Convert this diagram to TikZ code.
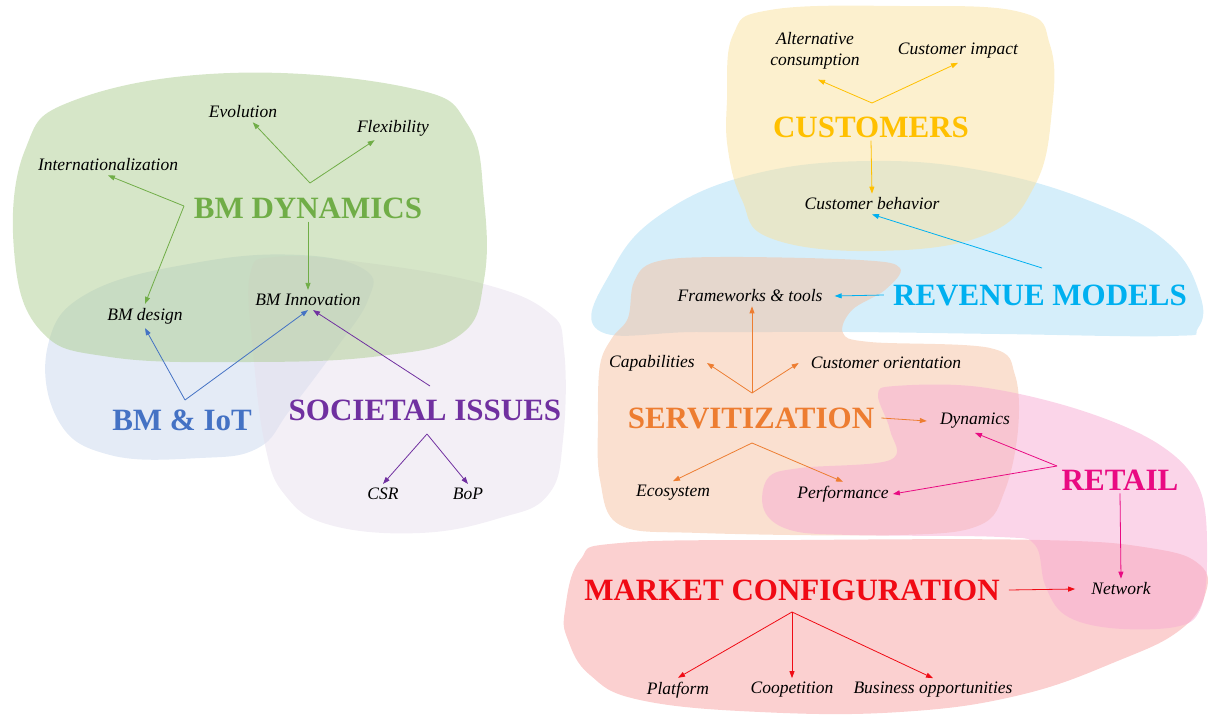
\documentclass[tikz,border=0pt]{standalone}
\usepackage{fontspec}
\setmainfont{Liberation Serif}
\usepackage{tikz}
\usetikzlibrary{arrows.meta}
\definecolor{dyngreen}{RGB}{112,173,71}
\definecolor{iotblue}{RGB}{68,114,196}
\definecolor{socpurple}{RGB}{112,48,160}
\definecolor{custyellow}{RGB}{255,192,0}
\definecolor{revblue}{RGB}{0,176,240}
\definecolor{servorange}{RGB}{237,125,49}
\definecolor{retailpink}{RGB}{233,10,130}
\definecolor{marketred}{RGB}{240,10,20}
\definecolor{greenblob}{RGB}{173,205,145}
\definecolor{iotblob}{RGB}{201,215,237}
\definecolor{socblob}{RGB}{231,223,237}
\definecolor{custblob}{RGB}{249,225,157}
\definecolor{revblob}{RGB}{171,221,245}
\definecolor{servblob}{RGB}{245,193,161}
\definecolor{retailblob}{RGB}{247,171,211}
\definecolor{marketblob}{RGB}{247,161,161}
\tikzset{
  blob/.style={fill=#1, fill opacity=0.5},
  topic/.style={font=\fontsize{31}{33}\selectfont\bfseries, inner sep=3pt},
  item/.style={font=\fontsize{17.5}{21}\selectfont\itshape, inner sep=4pt, align=center},
  link/.style={draw=#1, line width=0.8pt, -{Triangle[length=7pt,width=5pt]}}
}

\begin{document}
\begin{tikzpicture}[x=1pt,y=-1pt]
\useasboundingbox (0,0) rectangle (1208,720);

\fill[blob=iotblob] plot [smooth cycle, tension=0.7] coordinates {(48,345) (90,292) (200,262) (300,255) (365,270) (368,300) (335,350) (290,410) (258,448) (200,458) (110,455) (58,420)};
\fill[blob=socblob] plot [smooth cycle, tension=0.7] coordinates {(250,275) (275,257) (360,262) (480,283) (548,312) (564,350) (563,440) (548,495) (500,518) (420,533) (330,525) (285,495) (265,445) (253,350)};
\fill[blob=greenblob] plot [smooth cycle, tension=0.7] coordinates {(14,250) (25,150) (75,100) (230,73) (410,88) (468,125) (484,200) (484,280) (460,335) (380,356) (250,362) (110,357) (40,330)};

\fill[blob=revblob] plot [smooth cycle, tension=0.7] coordinates {(598,330) (612,270) (660,215) (750,175) (870,161) (990,172) (1100,205) (1170,245) (1200,295) (1198,328) (1170,336) (1000,334) (850,332) (700,332)};
\fill[blob=custblob] plot [smooth cycle, tension=0.7] coordinates {(727,100) (733,35) (770,10) (900,6) (1020,12) (1050,45) (1052,110) (1035,185) (985,235) (873,251) (770,238) (742,200) (728,150)};
\fill[blob=servblob] plot [smooth cycle, tension=0.6] coordinates {(598,420) (600,365) (612,338) (628,318) (634,282) (655,262) (720,257) (860,260) (900,268) (885,290) (852,310) (843,333) (870,342) (990,348) (1015,375) (1018,430) (1005,490) (980,525) (900,535) (700,533) (620,525) (600,480)};
\fill[blob=marketblob] plot [smooth cycle, tension=0.7] coordinates {(565,610) (580,560) (620,543) (800,540) (1040,540) (1150,548) (1200,565) (1205,595) (1180,630) (1120,660) (1020,695) (900,712) (760,712) (640,700) (590,675) (568,640)};
\fill[blob=retailblob] plot [smooth cycle, tension=0.6] coordinates {(878,395) (895,386) (980,387) (1080,410) (1160,445) (1200,490) (1207,560) (1200,610) (1175,627) (1110,628) (1065,615) (1045,585) (1035,545) (1000,537) (850,535) (790,530) (764,510) (768,478) (800,468) (890,460) (890,430)};

\node[item] (evol) at (243,112) {Evolution};
\node[item] (flex) at (393,128) {Flexibility};
\node[item] (intern) at (108,165) {Internationalization};
\node[topic, text=dyngreen] (dyn) at (308,208) {BM DYNAMICS};
\node[item] (design) at (145,316) {BM design};
\node[item] (innov) at (308,300) {BM Innovation};
\node[topic, text=iotblue] (iot) at (182,420) {BM \& IoT};
\node[topic, text=socpurple] (soc) at (425,410) {SOCIETAL ISSUES};
\node[item] (csr) at (383,494) {CSR};
\node[item] (bop) at (468,494) {BoP};

\node[item] (alt) at (815,51) {Alternative\\consumption};
\node[item] (imp) at (958,51) {Customer impact};
\node[topic, text=custyellow] (cust) at (871,127) {CUSTOMERS};
\node[item] (beh) at (872,204) {Customer behavior};
\node[item] (frame) at (750,296) {Frameworks \& tools};
\node[topic, text=revblue] (rev) at (1040,295) {REVENUE MODELS};
\node[item] (capa) at (652,363) {Capabilities};
\node[item] (corient) at (886,363) {Customer orientation};
\node[topic, text=servorange] (serv) at (751,418) {SERVITIZATION};
\node[item] (dynm) at (975,421) {Dynamics};
\node[item] (eco) at (673,493) {Ecosystem};
\node[item] (perf) at (843,494) {Performance};
\node[topic, text=retailpink] (retail) at (1120,480) {RETAIL};
\node[topic, text=marketred] (market) at (792,590) {MARKET CONFIGURATION};
\node[item] (net) at (1121,589) {Network};
\node[item] (plat) at (678,690) {Platform};
\node[item] (coop) at (792,690) {Coopetition};
\node[item] (bus) at (933,690) {Business opportunities};

\coordinate (dynJ) at (310,183);
\coordinate (dynL) at (184,206);
\coordinate (iotJ) at (185,400);
\coordinate (socJ) at (430,386);
\coordinate (socB) at (427,434);
\coordinate (custJ) at (872,103);
\coordinate (revJ) at (1042,268);
\coordinate (servJ) at (752,393);
\coordinate (servB) at (752,443);
\coordinate (retailJ) at (1057,466);
\coordinate (marketJ) at (792,612);

\draw[link=dyngreen] (dynJ) -- (evol);
\draw[link=dyngreen] (dynJ) -- (flex);
\draw[link=dyngreen] (dynL) -- (intern.south);
\draw[link=dyngreen] (dynL) -- (design.north);
\draw[link=dyngreen] (dyn.south) -- (innov.north);
\draw[link=iotblue] (iotJ) -- (design.south);
\draw[link=iotblue] (iotJ) -- (innov.south);
\draw[link=socpurple] (socJ) -- ([xshift=5pt]innov.south);
\draw[link=socpurple] (socB) -- (csr.north);
\draw[link=socpurple] (socB) -- (bop.north);
\draw[link=custyellow] (custJ) -- ([xshift=3pt,yshift=-6pt]alt.south);
\draw[link=custyellow] (custJ) -- (imp.south);
\draw[link=custyellow] (cust.south) -- (beh.north);
\draw[link=revblue] (revJ) -- (beh.south);
\draw[link=revblue] ([xshift=-6pt]rev.west) -- ([xshift=8pt]frame.east);
\draw[link=servorange] (servJ) -- (servJ |- frame.south);
\draw[link=servorange] (servJ) -- ([xshift=8pt]capa.east);
\draw[link=servorange] (servJ) -- ([xshift=-8pt]corient.west);
\draw[link=servorange] ([xshift=4pt]serv.east) -- ([xshift=-9pt]dynm.west);
\draw[link=servorange] (servB) -- (eco.north);
\draw[link=servorange] (servB) -- (perf.north);
\draw[link=retailpink] (retailJ) -- (dynm.south);
\draw[link=retailpink] (retailJ) -- (perf.east);
\draw[link=retailpink] (retail.south) -- (net.north);
\draw[link=marketred] ([xshift=6pt]market.east) -- ([xshift=-12pt]net.west);
\draw[link=marketred] (marketJ) -- (plat.north);
\draw[link=marketred] (marketJ) -- (coop.north);
\draw[link=marketred] (marketJ) -- (bus.north);
\end{tikzpicture}
\end{document}
